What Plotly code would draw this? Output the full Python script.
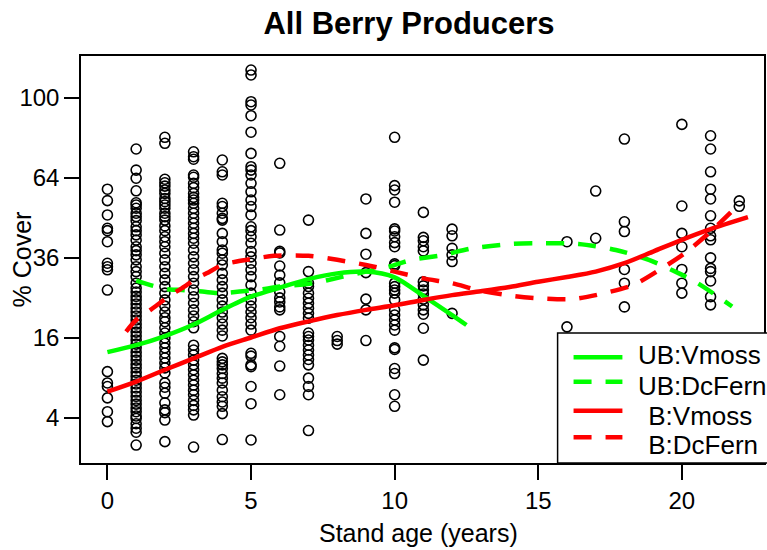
import math
import plotly.graph_objects as go

# Percent cover of sampled plots, grouped by stand age (years)
cover_age0 = [59.4, 55.1, 49.9, 45.3, 44.5, 40.9, 34.3, 33.3, 32.4, 26.9, 9.9, 8.2, 7.7, 6.2, 4.6, 3.6]
cover_age1 = [75.9, 67.0, 63.7, 58.8, 54.3, 53.5, 52.3, 50.5, 49.3, 47.9, 45.8, 44.5, 43.1, 41.4,
              39.3, 38.1, 36.8, 35.3, 33.3, 31.9, 30.5, 28.7, 27.4, 26.4, 25.3, 24.4, 23.4, 22.4,
              21.5, 20.6, 19.7, 18.8, 18.0, 17.1, 16.3, 15.5, 14.7, 14.0, 13.2, 12.5, 11.8, 11.1,
              10.5, 9.8, 9.2, 8.6, 8.05, 7.5, 6.95, 6.4, 5.9, 5.45, 5.0, 4.6, 4.15, 3.9, 3.4, 3.0,
              2.66, 1.72]
cover_age2 = [81.1, 78.4, 63.3, 61.9, 60.6, 59.1, 57.8, 55.9, 54.7, 53.5, 52.3, 50.5, 49.3, 48.1,
              46.1, 44.5, 42.5, 40.9, 39.3, 37.3, 35.3, 33.3, 31.4, 29.6, 27.8, 26.1, 24.4, 22.9,
              21.5, 20.2, 19.3, 18.0, 16.9, 15.9, 14.9, 14.0, 13.05, 12.15, 11.3, 10.5, 9.7, 8.2,
              7.6, 6.8, 5.6, 4.8, 4.5, 3.75, 1.95]
cover_age3 = [74.7, 72.6, 71.5, 65.0, 64.1, 61.7, 60.0, 57.8, 56.3, 55.3, 54.1, 52.3, 50.5, 48.7,
              47.0, 45.3, 43.6, 42.0, 40.4, 38.3, 36.2, 34.3, 32.4, 30.5, 28.7, 26.9, 25.2, 23.6,
              22.0, 20.6, 19.3, 18.0, 14.5, 13.6, 12.7, 11.8, 11.0, 10.2, 9.4, 8.6, 7.9, 7.2, 6.6,
              5.9, 5.3, 4.8, 4.25, 1.59]
cover_age4 = [71.2, 66.3, 65.0, 54.1, 52.9, 50.5, 48.7, 48.1, 43.6, 40.9, 38.3, 37.3, 35.3, 33.8,
              31.4, 29.6, 27.8, 26.1, 24.4, 22.9, 21.5, 20.2, 18.8, 17.5, 16.3, 12.1, 11.5, 11.0,
              10.4, 9.6, 8.9, 8.2, 7.2, 6.35, 5.7, 5.2, 4.4, 2.1]
cover_age5 = [114.2, 111.6, 97.9, 96.3, 91.1, 83.4, 74.0, 68.4, 67.0, 65.0, 61.7, 58.4, 55.3, 52.9,
              49.9, 45.8, 44.5, 42.5, 40.4, 37.8, 36.2, 34.3, 32.4, 30.5, 28.2, 26.1, 24.4, 22.9,
              21.5, 20.2, 18.8, 17.5, 13.0, 12.5, 11.0, 10.7, 7.7, 5.5, 2.07]
cover_age6 = [69.8, 44.7, 37.9, 37.4, 33.5, 30.9, 28.8, 26.4, 24.9, 23.9, 22.7, 22.0, 16.2, 14.3,
              10.8, 6.6]
cover_age7 = [48.1, 31.9, 28.7, 27.8, 26.1, 24.8, 23.6, 22.4, 21.2, 20.1, 16.9, 16.2, 15.5, 14.5,
              13.6, 12.7, 11.9, 11.0, 8.9, 7.7, 6.6, 2.8]
cover_age8 = [16.2, 15.4, 14.7]
cover_age9 = [55.7, 43.6, 37.0, 31.6, 24.6, 22.0, 15.4]
cover_age10 = [81.1, 60.8, 59.1, 54.5, 45.1, 44.4, 42.5, 40.6, 39.3, 34.1, 33.6, 28.7, 27.8, 26.9,
               26.1, 24.4, 22.0, 20.8, 19.7, 18.6, 17.5, 14.0, 13.7, 10.4, 9.6, 6.6, 5.2]
cover_age11 = [50.8, 42.3, 41.2, 39.3, 38.0, 29.1, 28.0, 26.9, 25.9, 24.6, 23.2, 22.0, 21.0, 17.9,
               11.8]
cover_age12 = [45.0, 42.8, 38.8, 36.8, 34.8, 21.2]
cover_age16 = [40.9, 18.2]
cover_age17 = [58.7, 42.0]
cover_age18 = [80.3, 47.5, 44.2, 32.5, 28.7, 22.7]
cover_age20 = [87.0, 53.1, 43.6, 39.3, 32.5, 28.7, 26.1]
cover_age21 = [81.8, 75.9, 66.3, 59.4, 55.7, 49.6, 45.3, 42.8, 41.5, 35.9, 32.8, 31.9, 29.3, 25.2,
               23.2]
cover_age22 = [55.0, 53.0]

stand_ages = [0, 1, 2, 3, 4, 5, 6, 7, 8, 9, 10, 11, 12, 16, 17, 18, 20, 21, 22]
cover_by_age = [cover_age0, cover_age1, cover_age2, cover_age3, cover_age4, cover_age5,
                cover_age6, cover_age7, cover_age8, cover_age9, cover_age10, cover_age11,
                cover_age12, cover_age16, cover_age17, cover_age18, cover_age20, cover_age21,
                cover_age22]

# Fitted trends (percent cover) for unburned (UB) and burned (B) stands
ub_vmoss_age = [0, 1, 2, 3, 4, 5, 6, 7, 8, 9, 10, 11, 12, 12.5]
ub_vmoss_cover = [13.2, 14.5, 16.3, 18.7, 22.0, 25.2, 27.5, 29.8, 31.4, 31.9, 30.3, 25.4, 20.8, 18.6]

ub_dcfern_age = [1.0, 1.5, 2.1, 2.6, 3.3, 3.9, 4.6, 5.2, 6.0, 7.15, 8.2, 9.0, 9.8, 10.6, 11.65,
                 12.7, 14.1, 15.0, 16.4, 17.7, 18.85, 19.9, 20.55, 21.75]
ub_dcfern_cover = [29.4, 28.2, 27.1, 26.9, 26.5, 26.1, 26.5, 26.9, 27.8, 28.7, 30.5, 31.9, 33.3,
                   35.3, 36.7, 38.8, 40.2, 40.4, 40.2, 38.3, 35.3, 31.4, 28.7, 22.8]

b_vmoss_age = [0, 1, 2, 3, 4, 5, 6, 7, 8, 9, 10, 11, 12, 13, 14, 15, 16, 17, 18, 19, 20, 21, 22.3]
b_vmoss_cover = [7.0, 8.4, 10.2, 12.1, 14.2, 16.0, 17.9, 19.4, 20.8, 22.0, 23.1, 24.4, 25.6, 26.6,
                 27.7, 29.1, 30.4, 31.9, 34.3, 37.8, 41.5, 45.0, 49.1]

b_dcfern_age = [0.65, 1.0, 1.5, 2.2, 2.6, 3.1, 3.45, 4.0, 4.5, 5.2, 5.8, 7.0, 8.0, 9.0, 10.0, 11.0,
                12.0, 12.9, 14.1, 15.0, 16.2, 17.3, 18.3, 19.3, 20.1, 21.0, 21.85]
b_dcfern_cover = [17.2, 19.7, 22.0, 25.6, 27.4, 30.0, 31.4, 33.8, 34.8, 35.8, 36.5, 36.5, 35.3,
                  33.8, 31.9, 30.0, 28.7, 26.9, 25.4, 24.8, 24.6, 26.1, 28.2, 32.8, 37.3, 44.2, 52.3]

series_names = ["UB:Vmoss", "UB:DcFern", " B:Vmoss", " B:DcFern"]
y_tick_values = [4, 16, 36, 64, 100]
x_tick_values = [0, 5, 10, 15, 20]

FONT = "Liberation Sans, Arial, sans-serif"
GREEN = "#00FF00"
RED = "#FF0000"
DASH = "18px,14px"

# plot-area geometry in pixels (used to place the legend box in paper units)
PLOT_L, PLOT_R, PLOT_T, PLOT_B = 81, 766, 56, 463


def sqrt_list(values):
    return [math.sqrt(v) for v in values]


def px_x(x):
    return (x - PLOT_L) / (PLOT_R - PLOT_L)


def px_y(y):
    return (PLOT_B - y) / (PLOT_B - PLOT_T)


fig = go.Figure()

# scatter of all plots (y on a square-root scale)
pts_x, pts_y = [], []
for age, covers in zip(stand_ages, cover_by_age):
    pts_x.extend([age] * len(covers))
    pts_y.extend(sqrt_list(covers))

fig.add_trace(go.Scatter(
    x=pts_x, y=pts_y, mode="markers", showlegend=False, hoverinfo="skip",
    marker=dict(symbol="circle-open", size=10, color="black", line=dict(width=1.6, color="black")),
))

styles = [(GREEN, "solid"), (GREEN, DASH), (RED, "solid"), (RED, DASH)]
curves = [(ub_vmoss_age, ub_vmoss_cover), (ub_dcfern_age, ub_dcfern_cover),
          (b_vmoss_age, b_vmoss_cover), (b_dcfern_age, b_dcfern_cover)]
for name, (xs, ys), (color, dash) in zip(series_names, curves, styles):
    fig.add_trace(go.Scatter(
        x=xs, y=sqrt_list(ys), mode="lines", name=name, showlegend=False,
        line=dict(color=color, width=4.5, dash=dash, shape="spline", smoothing=0.8),
    ))

# legend box in the lower-right corner, running past the right edge
shapes = [dict(type="rect", xref="paper", yref="paper", layer="above",
               x0=px_x(559), x1=1.1, y0=0, y1=px_y(333),
               fillcolor="white", line=dict(color="black", width=1.5))]
annotations = []
line_rows = [357.3, 381.7, 410.7, 437.3]
text_rows = [354.5, 386.0, 416.0, 444.5]
text_left = [638, 638, 641, 641]
for name, (color, dash), ly, ty, tx in zip(series_names, styles, line_rows, text_rows, text_left):
    shapes.append(dict(type="line", xref="paper", yref="paper", layer="above",
                       x0=px_x(575), x1=px_x(624), y0=px_y(ly), y1=px_y(ly),
                       line=dict(color=color, width=4.5, dash=dash)))
    annotations.append(dict(text=name.replace(" ", "\u00a0"), xref="paper", yref="paper",
                            x=px_x(tx), y=px_y(ty), xanchor="left", yanchor="middle",
                            showarrow=False, font=dict(family=FONT, size=26, color="black")))

annotations += [
    dict(text="Stand age (years)", xref="paper", yref="paper", x=px_x(419), y=0,
         xanchor="center", yanchor="middle", yshift=-70, showarrow=False,
         font=dict(family=FONT, size=25, color="black")),
    dict(text="% Cover", xref="paper", yref="paper", x=0, y=0.5, textangle=-90,
         xanchor="center", yanchor="middle", xshift=-60, showarrow=False,
         font=dict(family=FONT, size=25, color="black")),
]

axis_common = dict(
    showline=True, mirror=True, linecolor="black", linewidth=1.5,
    ticks="outside", ticklen=15, tickwidth=1.5, tickcolor="black",
    showgrid=False, zeroline=False,
    tickfont=dict(family=FONT, size=24, color="black"),
)

fig.update_layout(
    width=767, height=550,
    margin=dict(l=PLOT_L, r=767 - PLOT_R, t=PLOT_T, b=550 - PLOT_B),
    paper_bgcolor="white", plot_bgcolor="white",
    font=dict(family=FONT, color="black"),
    showlegend=False,
    title=dict(text="<b>All Berry Producers</b>", x=409 / 767, xanchor="center",
               y=1 - 23 / 550, yanchor="middle",
               font=dict(family=FONT, size=31, color="black")),
    xaxis=dict(range=[-0.92, 22.86], tickvals=x_tick_values, **axis_common),
    yaxis=dict(range=[0.8625, 11.0375], tickvals=sqrt_list(y_tick_values),
               ticktext=[str(v) for v in y_tick_values], **axis_common),
    shapes=shapes,
    annotations=annotations,
)

fig.write_html("out.html")
